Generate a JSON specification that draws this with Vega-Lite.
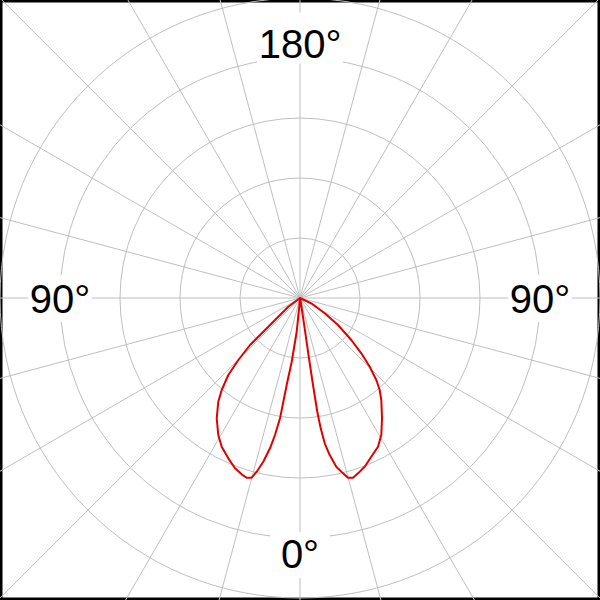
{
  "$schema": "https://vega.github.io/schema/vega-lite/v6.json",
  "width": 600,
  "height": 600,
  "padding": 0,
  "autosize": "none",
  "background": "white",
  "config": {"view": {"stroke": "black", "strokeWidth": 5}},
  "layer": [
    {
      "data": {"values": [
        {"x": 0, "y": -1000, "x2": 0, "y2": 1000},
        {"x": -258.8, "y": -965.9, "x2": 258.8, "y2": 965.9},
        {"x": -500, "y": -866, "x2": 500, "y2": 866},
        {"x": -707.1, "y": -707.1, "x2": 707.1, "y2": 707.1},
        {"x": -866, "y": -500, "x2": 866, "y2": 500},
        {"x": -965.9, "y": -258.8, "x2": 965.9, "y2": 258.8},
        {"x": -1000, "y": 0, "x2": 1000, "y2": 0},
        {"x": -965.9, "y": 258.8, "x2": 965.9, "y2": -258.8},
        {"x": -866, "y": 500, "x2": 866, "y2": -500},
        {"x": -707.1, "y": 707.1, "x2": 707.1, "y2": -707.1},
        {"x": -500, "y": 866, "x2": 500, "y2": -866},
        {"x": -258.8, "y": 965.9, "x2": 258.8, "y2": -965.9}
      ]},
      "mark": {"type": "rule", "clip": true, "color": "#bfbfbf", "strokeWidth": 1},
      "encoding": {
        "x": {"field": "x", "type": "quantitative", "scale": {"domain": [-500, 500], "nice": false, "zero": false}, "axis": null},
        "y": {"field": "y", "type": "quantitative", "scale": {"domain": [-503.3, 496.7], "nice": false, "zero": false}, "axis": null},
        "x2": {"field": "x2"},
        "y2": {"field": "y2"}
      }
    },
    {
      "data": {"values": [{"r": 100}, {"r": 200}, {"r": 300}, {"r": 400}, {"r": 500}]},
      "mark": {"type": "point", "shape": "circle", "filled": false, "stroke": "#bfbfbf", "strokeWidth": 1, "opacity": 1},
      "encoding": {
        "x": {"datum": 0, "type": "quantitative", "scale": {"domain": [-500, 500], "nice": false, "zero": false}, "axis": null},
        "y": {"datum": 0, "type": "quantitative", "scale": {"domain": [-503.3, 496.7], "nice": false, "zero": false}, "axis": null},
        "size": {"field": "r", "type": "quantitative", "scale": {"type": "pow", "exponent": 2, "domain": [0, 500], "range": [0, 360000]}, "legend": null}
      }
    },
    {
      "data": {"name": "labels", "values": [
        {"label": "180°", "x": 0, "y": 400},
        {"label": "90°", "x": -400, "y": -25},
        {"label": "90°", "x": 400, "y": -25},
        {"label": "0°", "x": 0, "y": -450}
      ]},
      "mark": {"type": "point", "filled": true, "fill": "white", "strokeWidth": 0, "opacity": 1},
      "encoding": {
        "x": {"field": "x", "type": "quantitative", "scale": {"domain": [-500, 500], "nice": false, "zero": false}, "axis": null},
        "y": {"field": "y", "type": "quantitative", "scale": {"domain": [-503.3, 496.7], "nice": false, "zero": false}, "axis": null},
        "shape": {
          "condition": [
            {"test": "datum.label === '180°'", "value": "M-1,-1.06H1V0.13H-1Z"},
            {"test": "datum.label === '90°'", "value": "M-1,-1.19H1V0.28H-1Z"}
          ],
          "value": "M-1,-1.2H1V0.33H-1Z"
        },
        "size": {
          "condition": [
            {"test": "datum.label === '180°'", "value": 7396},
            {"test": "datum.label === '90°'", "value": 4096}
          ],
          "value": 3600
        }
      }
    },
    {
      "data": {"name": "labels"},
      "mark": {"type": "text", "font": "Liberation Sans", "fontSize": 40, "align": "center", "baseline": "alphabetic", "color": "black"},
      "encoding": {
        "x": {"field": "x", "type": "quantitative", "scale": {"domain": [-500, 500], "nice": false, "zero": false}, "axis": null},
        "y": {"field": "y", "type": "quantitative", "scale": {"domain": [-503.3, 496.7], "nice": false, "zero": false}, "axis": null},
        "text": {"field": "label"}
      }
    },
    {
      "data": {"values": [
        {"o": 1, "x": 0, "y": 0},
        {"o": 2, "x": 1.2, "y": -6.2},
        {"o": 3, "x": 7.8, "y": -50.5},
        {"o": 4, "x": 15, "y": -100.5},
        {"o": 5, "x": 21.7, "y": -145},
        {"o": 6, "x": 28.8, "y": -189.5},
        {"o": 7, "x": 34.5, "y": -217.2},
        {"o": 8, "x": 41.2, "y": -242.2},
        {"o": 9, "x": 49.5, "y": -261.7},
        {"o": 10, "x": 60.5, "y": -281.2},
        {"o": 11, "x": 71.7, "y": -292.2},
        {"o": 12, "x": 80, "y": -299.5},
        {"o": 13, "x": 88.3, "y": -299.5},
        {"o": 14, "x": 96.7, "y": -292.2},
        {"o": 15, "x": 107.8, "y": -281.2},
        {"o": 16, "x": 118.8, "y": -264.5},
        {"o": 17, "x": 130, "y": -247.8},
        {"o": 18, "x": 135.5, "y": -228.3},
        {"o": 19, "x": 136.7, "y": -200.5},
        {"o": 20, "x": 135.5, "y": -170},
        {"o": 21, "x": 132.8, "y": -153.3},
        {"o": 22, "x": 127.2, "y": -136.7},
        {"o": 23, "x": 116.2, "y": -114.5},
        {"o": 24, "x": 102.2, "y": -92.2},
        {"o": 25, "x": 85.5, "y": -70},
        {"o": 26, "x": 63.3, "y": -45},
        {"o": 27, "x": 41.2, "y": -25.5},
        {"o": 28, "x": 18.8, "y": -8.8},
        {"o": 29, "x": 0, "y": 0},
        {"o": 30, "x": -19.5, "y": -14.5},
        {"o": 31, "x": -38.8, "y": -33.8},
        {"o": 32, "x": -61.2, "y": -56.2},
        {"o": 33, "x": -83.3, "y": -78.3},
        {"o": 34, "x": -102.8, "y": -103.3},
        {"o": 35, "x": -119.5, "y": -128.3},
        {"o": 36, "x": -130.5, "y": -153.3},
        {"o": 37, "x": -136.2, "y": -172.8},
        {"o": 38, "x": -138.8, "y": -200.5},
        {"o": 39, "x": -136.2, "y": -228.3},
        {"o": 40, "x": -130.5, "y": -247.8},
        {"o": 41, "x": -119.5, "y": -267.2},
        {"o": 42, "x": -108.3, "y": -283.8},
        {"o": 43, "x": -97.2, "y": -293.8},
        {"o": 44, "x": -88.8, "y": -299.5},
        {"o": 45, "x": -80.5, "y": -299.5},
        {"o": 46, "x": -72.2, "y": -289.5},
        {"o": 47, "x": -61.2, "y": -272.8},
        {"o": 48, "x": -50, "y": -250.5},
        {"o": 49, "x": -41.7, "y": -228.3},
        {"o": 50, "x": -33.3, "y": -200.5},
        {"o": 51, "x": -27.8, "y": -172.8},
        {"o": 52, "x": -22.2, "y": -145},
        {"o": 53, "x": -13.8, "y": -106.2},
        {"o": 54, "x": -5.5, "y": -56.2},
        {"o": 55, "x": -1, "y": -11.7},
        {"o": 56, "x": 0, "y": 0}
      ]},
      "mark": {"type": "line", "color": "#e00000", "strokeWidth": 2, "strokeJoin": "round"},
      "encoding": {
        "x": {"field": "x", "type": "quantitative", "scale": {"domain": [-500, 500], "nice": false, "zero": false}, "axis": null},
        "y": {"field": "y", "type": "quantitative", "scale": {"domain": [-503.3, 496.7], "nice": false, "zero": false}, "axis": null},
        "order": {"field": "o", "type": "quantitative"}
      }
    }
  ]
}
